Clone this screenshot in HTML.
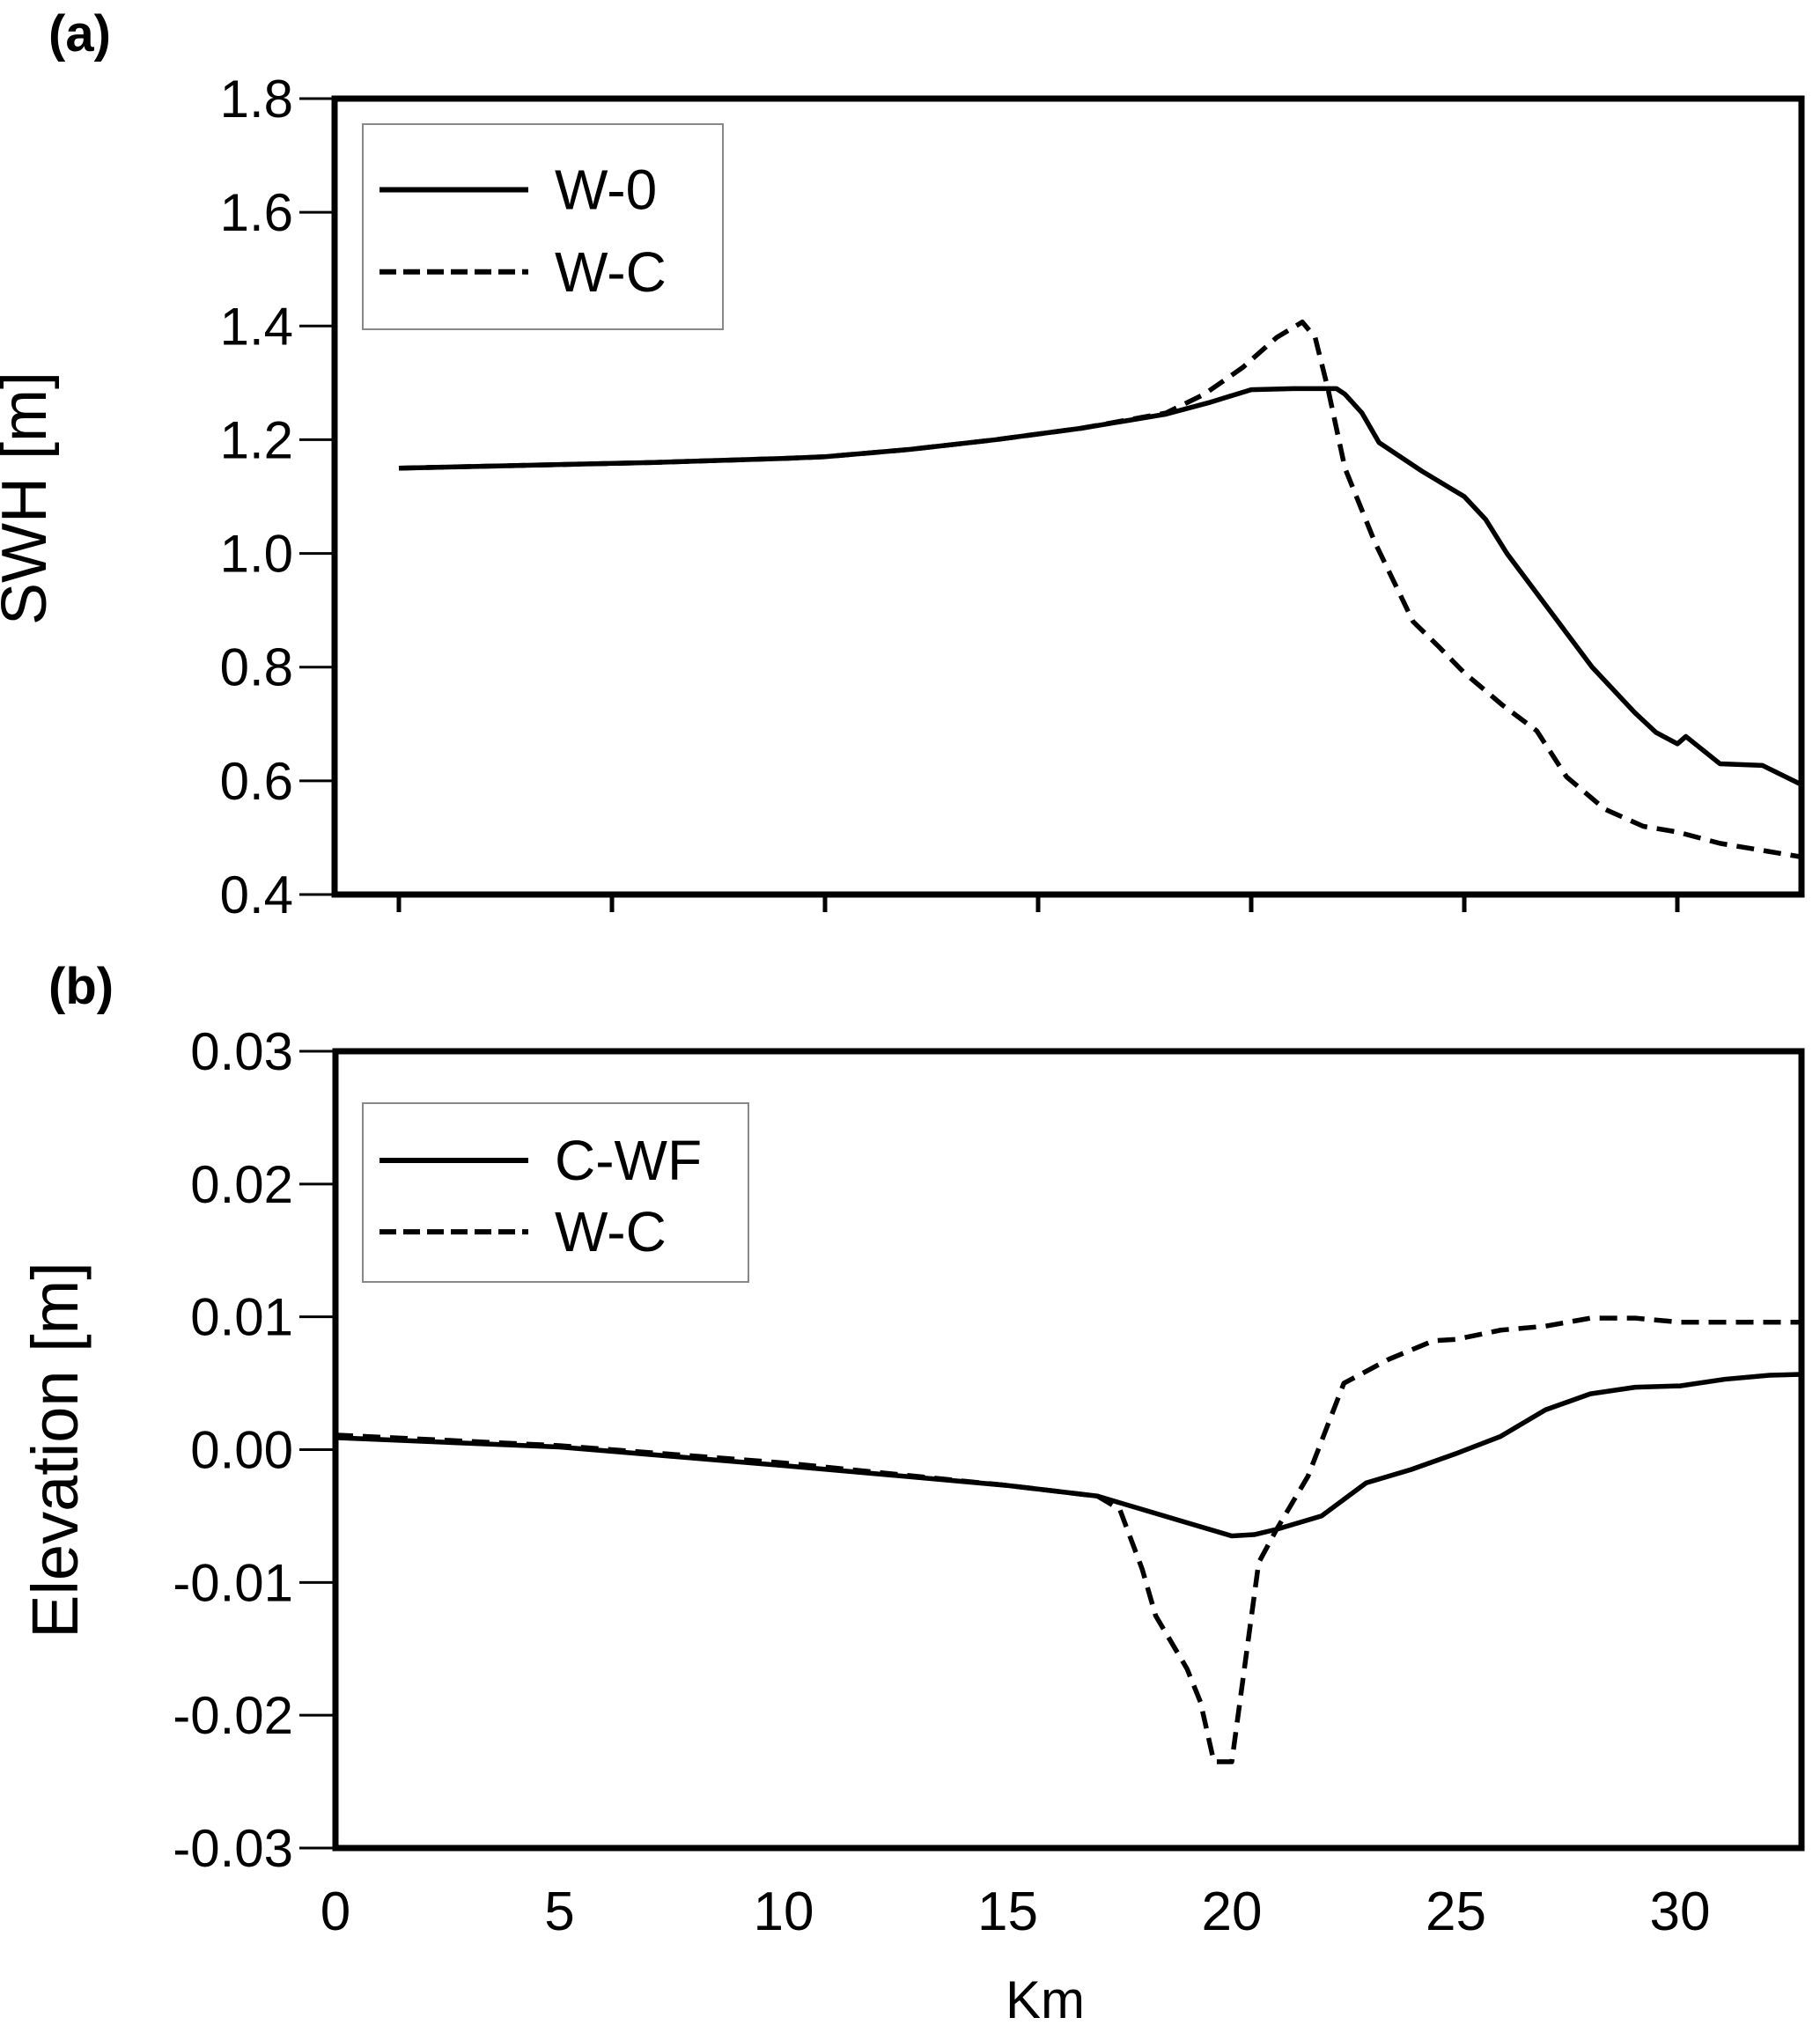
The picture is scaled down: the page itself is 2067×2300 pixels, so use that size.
<!DOCTYPE html>
<html><head><meta charset="utf-8"><style>
body{margin:0;background:#fff}
svg text{font-family:"Liberation Sans",sans-serif;fill:#000}
svg text.n{font-family:"Liberation Sans Narrow","Liberation Sans",sans-serif}
</style></head><body>
<svg id="chart" width="2067" height="2295" viewBox="0 0 2067 2295" xmlns="http://www.w3.org/2000/svg">
<defs>
<clipPath id="ca"><rect x="380" y="112" width="1666" height="904"/></clipPath>
<clipPath id="cb"><rect x="381" y="1194" width="1665" height="905"/></clipPath>
</defs>
<text x="55" y="58" font-size="58" font-weight="bold">(a)</text>
<text x="55" y="1140" font-size="58" font-weight="bold">(b)</text>
<text transform="translate(52,566) rotate(-90)" text-anchor="middle" font-size="72">SWH [m]</text>
<text transform="translate(88,1647) rotate(-90)" text-anchor="middle" font-size="74">Elevation [m]</text>
<text class="n" x="1187" y="2292" text-anchor="middle" font-size="60">Km</text>
<g id="ga"></g><g id="gb"></g>
</svg>
<script>
const aKm=[0,3,6,9,10,12,14,16,18,19,20,21,22,22.2,22.6,23,24,25,25.5,26,27,28,29,29.5,30,30.2,31,32,33];
const aW0=[1.150,1.155,1.160,1.167,1.170,1.183,1.200,1.220,1.245,1.265,1.288,1.290,1.290,1.280,1.247,1.195,1.145,1.100,1.060,1.000,0.900,0.800,0.720,0.685,0.665,0.678,0.630,0.627,0.590];
const aWCkm=[0,3,6,9,10,12,14,16,18,18.9,19.8,20.6,21.2,21.5,21.8,22.2,22.9,23.8,24.4,25,25.9,26.7,27.4,28.3,29.2,30,31,33];
const aWC=[1.150,1.155,1.160,1.167,1.170,1.183,1.200,1.220,1.247,1.280,1.327,1.380,1.407,1.380,1.290,1.150,1.020,0.880,0.836,0.790,0.733,0.688,0.607,0.550,0.520,0.510,0.490,0.465];
const aYTicks=[0.4,0.6,0.8,1.0,1.2,1.4,1.6,1.8];
const bKm=[0,5,10,15,17,18,19,20,20.5,21,22,23,24,25,26,27,28,29,30,31,32,33];
const bCWF=[0.0009,0.0002,-0.0012,-0.0027,-0.0035,-0.0045,-0.0055,-0.0065,-0.0064,-0.006,-0.005,-0.0025,-0.0015,-0.0003,0.001,0.003,0.0042,0.0047,0.0048,0.0053,0.0056,0.0057];
const bWCkm=[0,5,10,15,17,17.5,18,18.3,19,19.3,19.6,20,20.3,20.6,21,21.7,22.5,23.5,24.5,25,26,27,28,29,30,31,33];
const bWC=[0.0011,0.0003,-0.001,-0.0027,-0.0035,-0.0045,-0.009,-0.0125,-0.0165,-0.019,-0.0235,-0.0235,-0.016,-0.0085,-0.006,-0.002,0.005,0.0068,0.0082,0.0083,0.009,0.0093,0.0099,0.0099,0.0096,0.0096,0.0096];
const bYTicks=[-0.03,-0.02,-0.01,0.00,0.01,0.02,0.03];
const xTicks=[0,5,10,15,20,25,30];
const NS="http://www.w3.org/2000/svg";
function mk(p,t,at){const e=document.createElementNS(NS,t);for(const k in at)e.setAttribute(k,at[k]);p.appendChild(e);return e;}
function panel(g,cfg){
  const {L,R,T,B,x0,xs,ymin,ymax}=cfg;
  const X=k=>x0+k*xs, Y=v=>B-(v-ymin)/(ymax-ymin)*(B-T);
  cfg.yt.forEach(v=>{const l=mk(g,'line',{x1:340,x2:L,y1:Y(v),y2:Y(v),stroke:'#000','stroke-width':3});
    
    
    const t=mk(g,'text',{x:333,y:Y(v)+21,'text-anchor':'end','font-size':60,'class':'n'});t.textContent=cfg.fmt(v);
    
    });
  xTicks.forEach(k=>{const l=mk(g,'line',{x1:X(k),x2:X(k),y1:B,y2:B+cfg.tl,stroke:'#000','stroke-width':5});
    
    
    if(cfg.lab){const t=mk(g,'text',{x:X(k),y:2192,'text-anchor':'middle','font-size':62,'class':'n'});t.textContent=k;
    
    }});
  const sg=mk(g,'g',{'clip-path':cfg.clip});
  cfg.series.forEach(s=>{const p=mk(sg,'polyline',{points:s.k.map((k,i)=>X(k)+','+Y(s.v[i])).join(' '),fill:'none',stroke:'#000','stroke-width':5.5,'stroke-dasharray':s.d?'20 11':'none','stroke-linejoin':'round'});
    
    });
  const f=mk(g,'rect',{x:L,y:T,width:R-L,height:B-T,fill:'none',stroke:'#000','stroke-width':7});
  
  
  const lg=cfg.leg;
  const r=mk(g,'rect',{x:lg.x,y:lg.y,width:lg.w,height:lg.h,fill:'#fff',stroke:'#888','stroke-width':2});
  
  
  lg.items.forEach((it,i)=>{const yy=lg.y+lg.h*(i?0.72:0.32);
    const l=mk(g,'line',{x1:lg.x+19,x2:lg.x+188,y1:yy,y2:yy,stroke:'#000','stroke-width':6,'stroke-dasharray':i?'19 8':'none'});
    
    
    const t=mk(g,'text',{x:lg.x+218,y:yy+22,'font-size':64,'class':'n'});t.textContent=it;
    
    });
}
panel(document.getElementById('ga'),{L:380,R:2046,T:112,B:1016,x0:453,xs:48.4,ymin:0.4,ymax:1.8,yt:aYTicks,fmt:v=>v.toFixed(1),tl:20,lab:false,clip:'url(#ca)',
  series:[{k:aKm,v:aW0,d:false,n:'line-w0'},{k:aWCkm,v:aWC,d:true,n:'line-wc-a'}],
  leg:{x:412,y:141,w:409,h:233,items:['W-0','W-C']}});
panel(document.getElementById('gb'),{L:381,R:2046,T:1194,B:2099,x0:381,xs:50.9,ymin:-0.03,ymax:0.03,yt:bYTicks,fmt:v=>v.toFixed(2),tl:0,lab:true,clip:'url(#cb)',
  series:[{k:bKm,v:bCWF,d:false,n:'line-cwf'},{k:bWCkm,v:bWC,d:true,n:'line-wc-b'}],
  leg:{x:412,y:1253,w:438,h:203,items:['C-WF','W-C']}});
</script>
</body></html>
